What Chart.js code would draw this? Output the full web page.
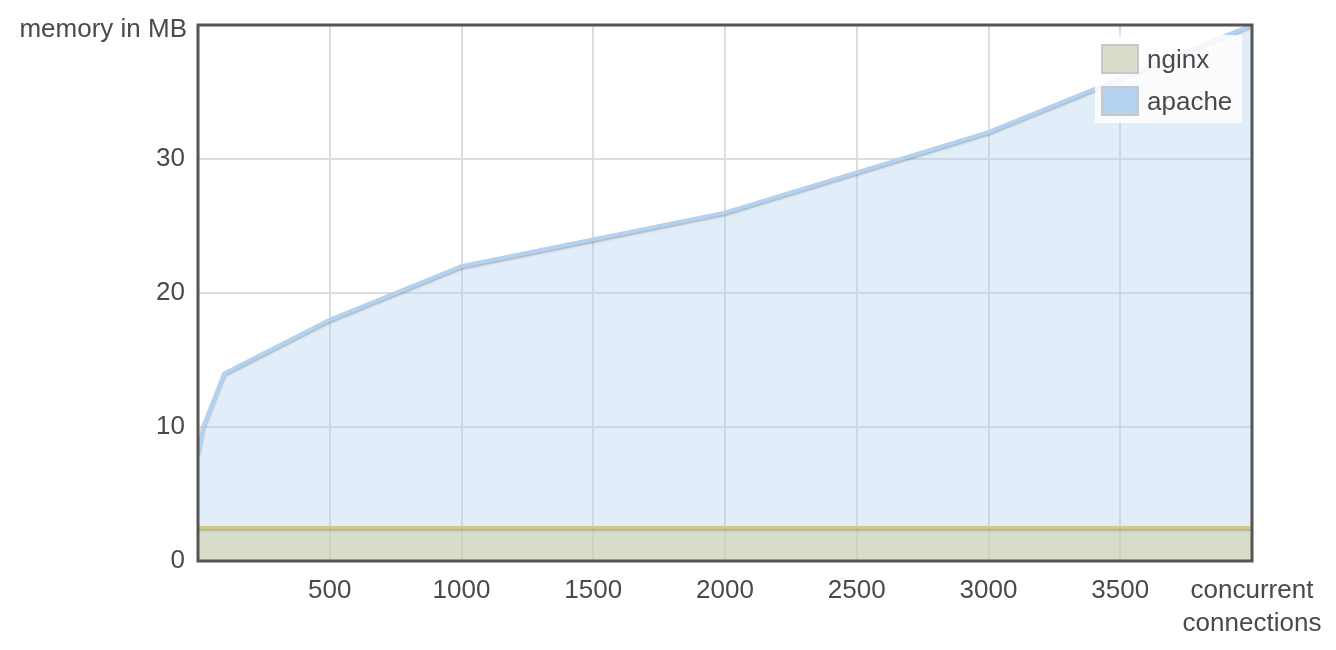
<!DOCTYPE html>
<html>
<head>
<meta charset="utf-8">
<title>memory usage</title>
<script src="https://cdn.jsdelivr.net/npm/chart.js@4.4.1/dist/chart.umd.min.js"></script>
<style>
    html, body { margin: 0; padding: 0; background: #fff; }
    #wrap { width: 1336px; height: 650px; }
</style>
</head>
<body>
<div id="wrap"><canvas id="memChart" width="1336" height="650"></canvas></div>
<script>
// datos
const conexiones = [0, 20, 100, 500, 1000, 2000, 3000, 4000];
const apacheMB = [8, 10, 14, 18, 22, 26, 32, 40];
const nginxMB = [2.5, 2.5, 2.5, 2.5, 2.5, 2.5, 2.5, 2.5];
const ticksX = [500, 1000, 1500, 2000, 2500, 3000, 3500];
const ticksY = [0, 10, 20, 30];
const series = ["nginx", "apache"];

const fuente = "'Liberation Sans', Arial, sans-serif";
const grisTexto = "#4a4a4a";

function puntos(valores) {
    return conexiones.map((c, i) => ({ x: c, y: valores[i] }));
}

// sombra suave bajo las lineas (el relleno ya se pinto antes)
const sombra = {
    id: "sombra",
    beforeDatasetDraw(chart) {
        const ctx = chart.ctx;
        ctx.shadowColor = "rgba(0,0,0,0.25)";
        ctx.shadowBlur = 2;
        ctx.shadowOffsetY = 1.5;
    },
    afterDatasetDraw(chart) {
        const ctx = chart.ctx;
        ctx.shadowColor = "transparent";
        ctx.shadowBlur = 0;
        ctx.shadowOffsetY = 0;
    }
};

// marco, titulos de ejes y leyenda
const extras = {
    id: "extras",
    afterDatasetsDraw(chart) {
        const { ctx, chartArea: a } = chart;
        ctx.save();
        ctx.strokeStyle = "#555";
        ctx.lineWidth = 3;
        ctx.strokeRect(a.left, a.top, a.right - a.left, a.bottom - a.top);
        ctx.restore();
    },
    afterDraw(chart, args, opts) {
        const { ctx, chartArea: a } = chart;
        ctx.save();
        ctx.font = "26px " + fuente;
        ctx.fillStyle = grisTexto;

        ctx.textAlign = "right";
        ctx.textBaseline = "middle";
        ctx.fillText("memory in MB", a.left - 11, a.top + 5);

        ctx.textAlign = "center";
        ctx.fillText("concurrent", a.right, a.bottom + 30);
        ctx.fillText("connections", a.right, a.bottom + 63);

        // leyenda
        const lx = a.right - 157, ly = a.top + 10;
        ctx.fillStyle = "rgba(255,255,255,0.85)";
        ctx.fillRect(lx, ly, 147, 88);

        series.forEach((nombre, i) => {
            const sy = ly + 10 + i * 42;
            ctx.fillStyle = opts.colores[i];
            ctx.fillRect(lx + 7, sy, 36, 28);
            ctx.strokeStyle = "#c8c8c8";
            ctx.lineWidth = 2;
            ctx.strokeRect(lx + 7, sy, 36, 28);
            ctx.fillStyle = grisTexto;
            ctx.textAlign = "left";
            ctx.fillText(nombre, lx + 52, sy + 16);
        });
        ctx.restore();
    }
};

const ctx = document.getElementById("memChart").getContext("2d");
const memChart = new Chart(ctx, {
    type: "line",
    data: {
        datasets: [
            {
                label: series[0],
                data: puntos(nginxMB),
                borderColor: "#d4c882",
                borderWidth: 3,
                backgroundColor: "rgba(207,203,157,0.5)",
                fill: "origin",
                pointRadius: 0,
                tension: 0
            },
            {
                label: series[1],
                data: puntos(apacheMB),
                borderColor: "#b3d1f0",
                borderWidth: 4,
                backgroundColor: "rgba(181,211,240,0.4)",
                fill: "origin",
                pointRadius: 0,
                tension: 0
            }
        ]
    },
    options: {
        responsive: false,
        animation: false,
        layout: { padding: { left: 0, top: 25, right: 84, bottom: 0 } },
        scales: {
            x: {
                type: "linear",
                min: 0,
                max: 4000,
                afterFit: s => { s.height = 89; s.paddingLeft = 0; s.paddingRight = 0; },
                afterBuildTicks: s => { s.ticks = [0].concat(ticksX, [4000]).map(v => ({ value: v })); },
                ticks: {
                    padding: 14,
                    color: grisTexto,
                    font: { family: fuente, size: 26 },
                    callback: v => ticksX.includes(v) ? String(v) : ""
                },
                grid: { color: "#dcdcdc", lineWidth: 2, drawTicks: false },
                border: { display: false }
            },
            y: {
                min: 0,
                max: 40,
                afterFit: s => { s.width = 198; s.paddingTop = 0; s.paddingBottom = 0; },
                afterBuildTicks: s => { s.ticks = ticksY.concat([40]).map(v => ({ value: v })); },
                ticks: {
                    padding: 13,
                    color: grisTexto,
                    font: { family: fuente, size: 26 },
                    callback: v => ticksY.includes(v) ? String(v) : ""
                },
                grid: { color: "#dcdcdc", lineWidth: 2, drawTicks: false },
                border: { display: false }
            }
        },
        plugins: {
            legend: { display: false },
            tooltip: { enabled: false },
            extras: { colores: ["#d8dccb", "#b5d3f0"] }
        }
    },
    plugins: [sombra, extras]
});
</script>
</body>
</html>
